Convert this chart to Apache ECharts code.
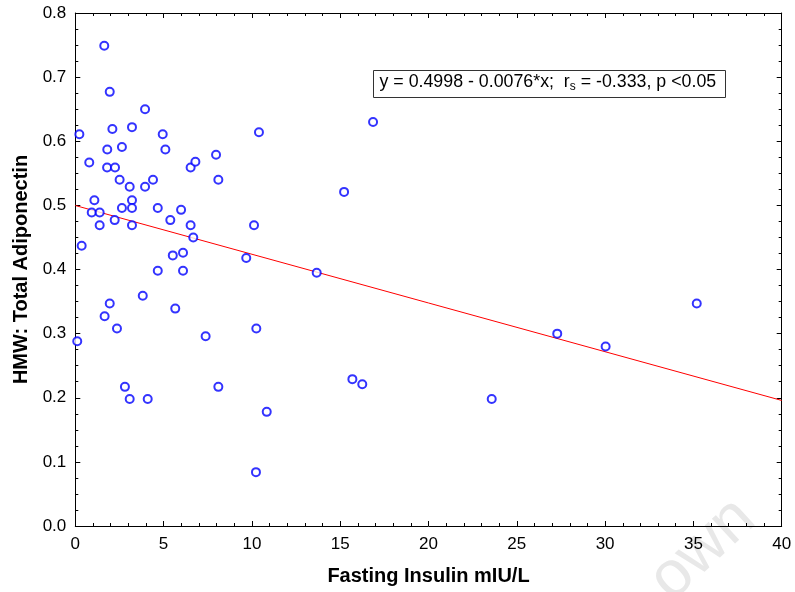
<!DOCTYPE html>
<html>
<head>
<meta charset="utf-8">
<script src="https://cdn.jsdelivr.net/npm/echarts@6/dist/echarts.min.js"></script>
<style>html,body{margin:0;padding:0;background:#fff}#c{width:795px;height:592px}</style>
</head>
<body>
<div id="c"></div>
<script>
var insulin = [1.64,1.95,3.95,2.10,3.21,0.23,4.95,10.40,16.86,1.81,2.64,5.10,0.79,1.80,2.25,6.53,6.80,7.97,2.51,3.95,4.40,8.10,3.08,1.08,3.21,2.64,3.21,4.67,15.22,0.93,1.38,5.99,3.21,2.23,5.38,1.38,6.53,10.12,6.68,0.36,5.52,6.10,9.68,4.67,6.10,13.67,3.82,1.95,5.66,1.66,2.36,10.25,7.38,0.11,27.29,30.03,35.19,2.81,8.10,15.69,16.25,3.08,4.10,23.58,10.84,10.23];
var adiponectin = [0.749,0.677,0.650,0.619,0.622,0.611,0.611,0.614,0.630,0.587,0.591,0.587,0.567,0.559,0.559,0.559,0.568,0.579,0.540,0.529,0.540,0.540,0.529,0.508,0.508,0.496,0.496,0.496,0.521,0.489,0.489,0.493,0.469,0.477,0.477,0.469,0.469,0.469,0.450,0.437,0.422,0.426,0.418,0.398,0.398,0.395,0.359,0.347,0.339,0.327,0.308,0.308,0.296,0.288,0.300,0.280,0.347,0.217,0.217,0.229,0.221,0.198,0.198,0.198,0.178,0.084];
var fitIntercept = 0.4998;
var fitSlope = -0.0076;
var fitX = [0, 40];
var xTicks = [0,5,10,15,20,25,30,35,40];
var yTicks = [0.0,0.1,0.2,0.3,0.4,0.5,0.6,0.7,0.8];

var points = insulin.map(function(x,i){return [x, adiponectin[i]];});
var fitLine = fitX.map(function(x){return [x, fitIntercept + fitSlope*x];});

var chart = echarts.init(document.getElementById('c'), null, {renderer:'canvas'});
var font = 'Liberation Sans, Arial, Helvetica, sans-serif';
function axisParts(split){
  return {
    axisLine:{show:true, onZero:false, lineStyle:{color:'#000', width:1}},
    axisTick:{show:true, inside:true, length:5, lineStyle:{color:'#000'}},
    minorTick:{show:true, splitNumber:split, length:3, lineStyle:{color:'#000'}},
    splitLine:{show:false}
  };
}
chart.setOption({
  animation:false,
  backgroundColor:'#fff',
  grid:{left:75.3, right:13.3, top:13, bottom:66},
  xAxis:[
    Object.assign({type:'value', min:0, max:40, interval:5, position:'bottom',
      name:'Fasting Insulin mIU/L', nameLocation:'middle', nameGap:40,
      nameTextStyle:{fontFamily:font, fontSize:20, fontWeight:'bold', color:'#000'},
      axisLabel:{fontFamily:font, fontSize:17, color:'#000', margin:10,
        formatter:function(v){return xTicks.indexOf(v)>=0 ? String(v) : '';}}
    }, axisParts(5)),
    Object.assign({type:'value', min:0, max:40, interval:5, position:'top', axisLabel:{show:false}}, axisParts(5))
  ],
  yAxis:[
    Object.assign({type:'value', min:0, max:0.8, interval:0.1, position:'left',
      name:'HMW: Total Adiponectin', nameLocation:'middle', nameGap:42,
      nameTextStyle:{fontFamily:font, fontSize:20, fontWeight:'bold', color:'#000'},
      axisLabel:{fontFamily:font, fontSize:17, color:'#000', margin:9,
        formatter:function(v){var t=yTicks.find(function(a){return Math.abs(a-v)<1e-9;}); return t===undefined?'':t.toFixed(1);}}
    }, axisParts(4)),
    Object.assign({type:'value', min:0, max:0.8, interval:0.1, position:'right', axisLabel:{show:false}}, axisParts(4))
  ],
  graphic:[
    {type:'text', left:638, top:486, rotation:Math.PI/4.2, z:-10, silent:true,
      style:{text:'own', font:'64px '+font, fill:'#e8e8e8'}},
    {type:'group', left:373, top:70, z:100, children:[
      {type:'rect', shape:{x:0,y:0,width:352,height:27}, style:{fill:'#fff', stroke:'#333', lineWidth:1}},
      {type:'text', left:6, top:3, style:{
        rich:{n:{fontFamily:font, fontSize:17.8, fill:'#000'}, s:{fontFamily:font, fontSize:12, fill:'#000', padding:[9,0,0,0]}},
        text:'{n|y = 0.4998 - 0.0076*x;  r}{s|s}{n| = -0.333, p <0.05}'}}
    ]}
  ],
  series:[
    {type:'scatter', xAxisIndex:0, yAxisIndex:0, data:points, symbol:'emptyCircle', symbolSize:8,
      itemStyle:{color:'#0000ff', borderColor:'#0000ff', borderWidth:1}, z:3},
    {type:'line', xAxisIndex:0, yAxisIndex:0, data:fitLine, symbol:'none', showSymbol:false,
      lineStyle:{color:'#ff0000', width:1}, z:2}
  ]
});
</script>
</body>
</html>
